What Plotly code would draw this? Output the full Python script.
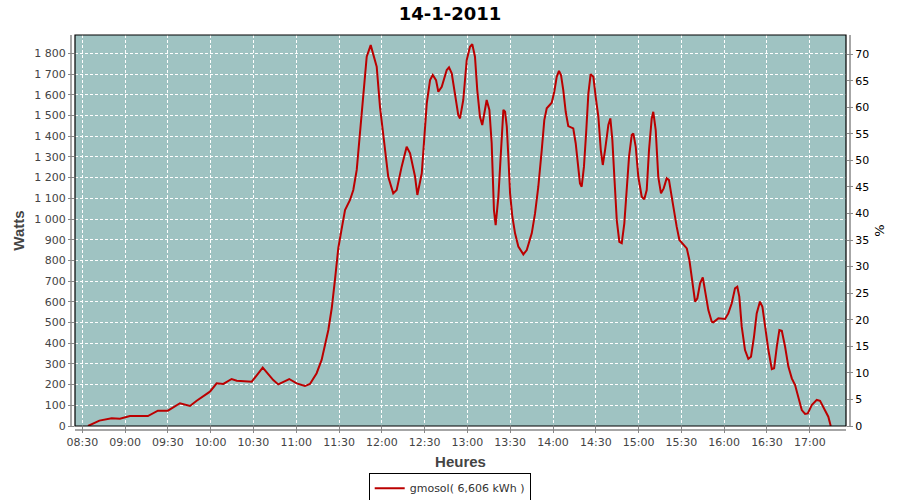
import plotly.graph_objects as go

DAY = "2011-01-14 "

times = [
    "08:34:00", "08:35:24", "08:42:00", "08:50:36", "08:56:24", "09:03:24", "09:16:00", "09:23:00",
    "09:30:00", "09:38:30", "09:45:30", "09:50:12", "09:59:30", "10:04:12", "10:08:54", "10:14:42",
    "10:18:18", "10:28:48", "10:36:30", "10:43:54", "10:47:24", "10:55:06", "11:00:18", "11:06:06",
    "11:09:36", "11:14:18", "11:17:48", "11:22:30", "11:24:54", "11:27:12", "11:29:30", "11:31:54",
    "11:34:12", "11:37:42", "11:40:00", "11:42:24", "11:44:42", "11:47:00", "11:49:24", "11:52:12",
    "11:54:00", "11:56:24", "11:58:42", "12:01:00", "12:04:30", "12:08:00", "12:10:24", "12:13:54",
    "12:17:24", "12:19:48", "12:23:18", "12:24:54", "12:28:00", "12:31:30", "12:33:48", "12:35:42",
    "12:38:00", "12:39:36", "12:42:00", "12:45:30", "12:47:06", "12:49:00", "12:51:18", "12:53:36",
    "12:54:48", "12:57:06", "12:59:30", "13:01:48", "13:03:24", "13:05:18", "13:06:54", "13:08:48",
    "13:10:24", "13:12:18", "13:13:30", "13:15:24", "13:17:00", "13:18:36", "13:19:48", "13:21:42",
    "13:23:18", "13:25:12", "13:26:24", "13:27:36", "13:28:42", "13:29:54", "13:31:30", "13:33:24",
    "13:35:42", "13:39:12", "13:41:36", "13:45:06", "13:47:24", "13:49:42", "13:52:06", "13:53:54",
    "13:55:36", "13:59:06", "14:00:54", "14:02:36", "14:04:12", "14:05:36", "14:07:12", "14:08:54",
    "14:10:42", "14:14:12", "14:15:54", "14:17:18", "14:18:54", "14:20:06", "14:21:42", "14:23:12",
    "14:24:48", "14:26:24", "14:28:18", "14:29:54", "14:31:48", "14:33:30", "14:34:54", "14:36:30",
    "14:38:48", "14:40:12", "14:41:36", "14:43:00", "14:44:42", "14:46:30", "14:48:12", "14:50:00",
    "14:51:42", "14:53:18", "14:55:12", "14:56:18", "14:58:00", "14:59:48", "15:02:12", "15:04:00",
    "15:05:42", "15:07:18", "15:09:12", "15:10:18", "15:12:00", "15:13:48", "15:15:42", "15:17:36",
    "15:19:42", "15:21:18", "15:23:12", "15:25:00", "15:26:42", "15:28:36", "15:31:24", "15:33:48",
    "15:35:36", "15:37:18", "15:39:36", "15:41:12", "15:43:06", "15:45:00", "15:46:36", "15:48:54",
    "15:51:18", "15:52:24", "15:55:54", "16:00:36", "16:02:54", "16:05:18", "16:07:36", "16:09:12",
    "16:10:36", "16:12:18", "16:14:36", "16:16:54", "16:18:48", "16:20:54", "16:22:48", "16:25:06",
    "16:26:48", "16:28:36", "16:31:00", "16:33:24", "16:35:00", "16:36:54", "16:38:42", "16:40:24",
    "16:42:42", "16:45:00", "16:47:24", "16:49:42", "16:52:00", "16:54:24", "16:56:42", "16:58:36",
    "17:01:24", "17:04:54", "17:07:12", "17:09:30", "17:13:00", "17:14:42",
]

watts = [
    0, 5, 26, 37, 35, 48, 48, 74,
    74, 110, 97, 122, 166, 206, 203, 227,
    219, 214, 282, 222, 201, 227, 206, 193,
    203, 255, 319, 464, 570, 710, 860, 955,
    1043, 1092, 1140, 1237, 1414, 1591, 1784, 1840,
    1800, 1736, 1542, 1398, 1204, 1124, 1140, 1253,
    1349, 1317, 1204, 1116, 1221, 1559, 1671, 1696,
    1671, 1615, 1639, 1720, 1733, 1704, 1607, 1502,
    1486, 1575, 1768, 1832, 1845, 1784, 1623, 1494,
    1454, 1527, 1575, 1527, 1366, 1043, 970, 1108,
    1317, 1527, 1518, 1446, 1301, 1124, 1011, 931,
    867, 829, 850, 931, 1027, 1156, 1333, 1478,
    1535, 1562, 1615, 1687, 1716, 1696, 1623, 1518,
    1449, 1438, 1366, 1269, 1172, 1156, 1253, 1414,
    1607, 1700, 1687, 1591, 1494, 1333, 1261, 1333,
    1454, 1486, 1382, 1204, 995, 890, 883, 979,
    1140, 1301, 1406, 1414, 1349, 1204, 1108, 1095,
    1140, 1333, 1486, 1518, 1430, 1204, 1124, 1148,
    1197, 1188, 1108, 1027, 963, 899, 874, 858,
    802, 705, 601, 617, 689, 718, 657, 560,
    504, 501, 520, 517, 544, 593, 665, 673,
    625, 480, 367, 324, 335, 431, 544, 601,
    576, 480, 367, 275, 279, 383, 464, 460,
    383, 287, 230, 198, 134, 77, 58, 61,
    101, 126, 122, 93, 45, 0,
]

title_text = "14-1-2011"
series_name = "gmosol( 6,606 kWh )"
x_title = "Heures"
y_title = "Watts"
y2_title = "%"
x_range = ["08:24:54", "17:25:24"]
y_range = [0, 1889]
y2_range = [0, 73.6]

x = [DAY + t for t in times]

fig = go.Figure()
fig.add_trace(go.Scatter(
    x=x, y=watts, mode="lines", name=series_name,
    line=dict(color="#BB0000", width=2),
))
# invisible trace to activate the right axis
fig.add_trace(go.Scatter(x=[x[0]], y=[0], yaxis="y2", mode="lines",
                         line=dict(width=0), showlegend=False, hoverinfo="skip"))

fig.update_layout(
    width=900, height=500,
    margin=dict(l=75, r=54, t=35, b=74, autoexpand=False),
    paper_bgcolor="white",
    plot_bgcolor="#9FC3C2",
    separators=", ",
    font=dict(family="DejaVu Sans", size=11, color="#444444"),
    title=dict(text=title_text, x=0.5, xanchor="center", y=0.972, yanchor="middle",
               font=dict(family="DejaVu Sans", size=18, color="black", weight="bold")),
    showlegend=True,
    legend=dict(x=0.486, xanchor="center", y=-0.159, yanchor="middle",
                orientation="h", bordercolor="black", borderwidth=1,
                bgcolor="white", font=dict(family="DejaVu Sans", size=11, color="#333333"),
                itemwidth=30),
    xaxis=dict(
        type="date", range=[DAY + x_range[0], DAY + x_range[1]], automargin=False,
        tick0=DAY + "08:30:00", dtick=1800000, tickformat="%H:%M",
        showgrid=True, gridcolor="white", griddash="3px,2px", gridwidth=1,
        ticks="outside", ticklen=6, tickcolor="#888888",
        showline=False, zeroline=False,
        title=dict(text=x_title, standoff=8,
                   font=dict(family="Liberation Sans", size=15, color="#444444", weight="bold")),
        tickfont=dict(family="DejaVu Sans", size=11, color="#444444"),
    ),
    yaxis=dict(
        range=y_range, dtick=100, tick0=0, tickformat=",d", automargin=False,
        showgrid=True, gridcolor="white", griddash="3px,2px", gridwidth=1,
        ticks="outside", ticklen=6, tickcolor="#888888",
        showline=False, zeroline=False,
        title=dict(text=y_title, standoff=6,
                   font=dict(family="Liberation Sans", size=15, color="#444444", weight="bold")),
        tickfont=dict(family="DejaVu Sans", size=11, color="#444444"),
    ),
    yaxis2=dict(
        overlaying="y", side="right", range=y2_range, dtick=5, tick0=0, automargin=False,
        showgrid=False, zeroline=False, showline=False,
        ticks="outside", ticklen=6, tickcolor="#888888",
        title=dict(text=y2_title, standoff=6,
                   font=dict(family="DejaVu Sans", size=13, color="black")),
        tickfont=dict(family="DejaVu Sans", size=11, color="black"),
    ),
)

# plot border and offset axis lines (JFreeChart style)
fig.add_shape(type="rect", xref="paper", yref="paper", x0=0, y0=0, x1=1, y1=1,
              line=dict(color="black", width=1.2), layer="above")
fig.add_shape(type="line", xref="paper", yref="paper", x0=-4/771, x1=-4/771, y0=0, y1=1,
              line=dict(color="#888888", width=1.5))
fig.add_shape(type="line", xref="paper", yref="paper", x0=1 + 4/771, x1=1 + 4/771, y0=0, y1=1,
              line=dict(color="#888888", width=1.5))
fig.add_shape(type="line", xref="paper", yref="paper", x0=0, x1=1, y0=-4/391, y1=-4/391,
              line=dict(color="#888888", width=1.5))

fig.write_html("out.html", config={"displayModeBar": False},
               post_script="document.body.style.margin='0';")
